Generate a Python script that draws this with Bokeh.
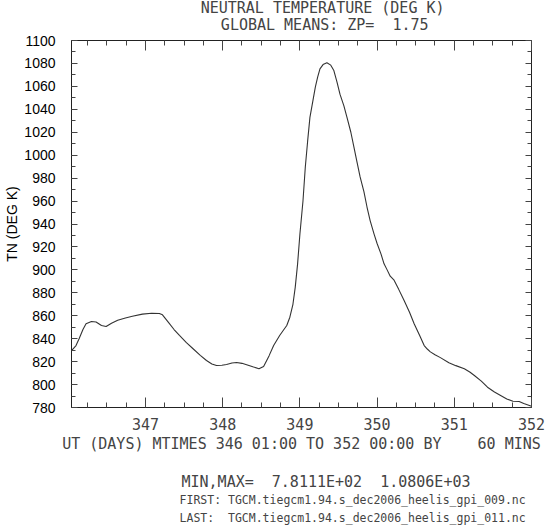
import re
from bokeh.plotting import figure
from bokeh.layouts import column
from bokeh.models import Range1d, FixedTicker, SingleIntervalTicker, LinearAxis, Label
from bokeh.embed import file_html
from bokeh.resources import INLINE

# ---- data ----
ut_days = [346.042, 346.10, 346.14, 346.19, 346.23, 346.30, 346.36, 346.43, 346.49, 346.56,
           346.64, 346.74, 346.83, 346.96, 347.08, 347.18, 347.22, 347.30, 347.37, 347.44,
           347.53, 347.62, 347.71, 347.79, 347.86, 347.92, 347.99, 348.05, 348.12, 348.18,
           348.25, 348.31, 348.39, 348.47, 348.53, 348.60, 348.66, 348.74, 348.83, 348.87,
           348.91, 348.94, 348.97, 349.00, 349.04, 349.07, 349.10, 349.13, 349.17, 349.20,
           349.23, 349.26, 349.30, 349.35, 349.40, 349.44, 349.48, 349.52, 349.57, 349.61,
           349.66, 349.70, 349.74, 349.78, 349.83, 349.87, 349.91, 349.96, 350.00, 350.05,
           350.09, 350.13, 350.17, 350.22, 350.28, 350.35, 350.42, 350.48, 350.55, 350.61,
           350.65, 350.69, 350.75, 350.82, 350.93, 351.02, 351.13, 351.20, 351.26, 351.35,
           351.43, 351.52, 351.60, 351.68, 351.76, 351.84, 351.90, 352.00]
tn_deg_k = [829.5, 834.0, 840.0, 848.0, 853.0, 855.0, 854.5, 851.5, 850.6, 853.5,
            856.0, 858.0, 859.5, 861.4, 862.2, 862.0, 860.8, 854.0, 848.0, 842.8,
            836.5, 831.0, 825.5, 821.0, 818.0, 816.6, 816.8, 817.5, 818.8, 819.2,
            818.5, 817.3, 815.5, 813.8, 815.7, 825.0, 834.0, 843.0, 851.5, 858.7,
            870.0, 885.0, 905.0, 931.0, 960.0, 989.5, 1012.0, 1033.0, 1048.0, 1059.3,
            1068.0, 1075.3, 1079.0, 1080.6, 1078.5, 1073.8, 1064.0, 1053.0, 1043.0, 1033.0,
            1020.0, 1007.0, 994.0, 981.0, 968.0, 954.6, 943.0, 931.4, 923.0, 914.0,
            905.3, 900.0, 894.5, 891.0, 883.0, 873.3, 863.0, 853.0, 843.0, 834.0,
            831.0, 828.5, 826.0, 823.5, 819.0, 816.5, 813.7, 811.0, 807.9, 803.0,
            797.7, 793.5, 790.5, 787.5, 785.5, 785.2, 783.5, 781.1]

x_major_ticks = [347, 348, 349, 350, 351, 352]
x_minor_ticks = [346.25, 346.5, 346.75, 347.25, 347.5, 347.75, 348.25, 348.5, 348.75,
                 349.25, 349.5, 349.75, 350.25, 350.5, 350.75, 351.25, 351.5, 351.75]
y_major_ticks = list(range(780, 1101, 20))
y_minor_ticks = list(range(790, 1100, 20))
x_start, x_end = 346.0417, 352.0
y_start, y_end = 780, 1100

title_lines = ["NEUTRAL TEMPERATURE (DEG K)", "GLOBAL MEANS: ZP=  1.75"]
x_label = "UT (DAYS) MTIMES 346 01:00 TO 352 00:00 BY    60 MINS"
y_label = "TN (DEG K)"
minmax_text = "MIN,MAX=  7.8111E+02  1.0806E+03"
first_text = "FIRST: TGCM.tiegcm1.94.s_dec2006_heelis_gpi_009.nc"
last_text = "LAST:  TGCM.tiegcm1.94.s_dec2006_heelis_gpi_011.nc"


def keep_spaces(s):
    # runs of spaces would collapse in SVG; keep them with no-break spaces
    return re.sub(r" (?= )", "\u00a0", s)


# ---- layout (page pixels) ----
W = 545
HEAD_H, FOOT_H = 32, 66
MAIN_H = 526 - HEAD_H - FOOT_H          # 428
FL, FR = 71, 531                         # frame left/right
FT_LOCAL = 40 - HEAD_H                   # frame top inside main figure  (page y 40)
FB_LOCAL = 407 - HEAD_H                  # frame bottom inside main figure (page y 407)
STROKE_FONT = "DejaVu Sans Mono"
STROKE_COLOR = "#444444"
FRAME_COLOR = "#222222"
TICK_COLOR = "#444444"


def text_panel(height):
    f = figure(width=W, height=height, output_backend="svg", toolbar_location=None,
               x_range=Range1d(0, W), y_range=Range1d(height, 0),
               min_border=0, x_axis_location=None, y_axis_location=None)
    f.grid.visible = False
    f.outline_line_color = None
    f.background_fill_color = "white"
    f.border_fill_color = "white"
    return f


def put(f, txt, x, y, size, align="center"):
    f.add_layout(Label(x=x, y=y, text=keep_spaces(txt), text_font=STROKE_FONT,
                       text_font_size=size, text_color=STROKE_COLOR,
                       text_align=align, text_baseline="middle"))


# header with the two title lines
head = text_panel(HEAD_H)
put(head, title_lines[0], 297.5, 7.5, "15px")
put(head, title_lines[1], 300, 24, "15px")

# main plot
p = figure(width=W, height=MAIN_H, output_backend="svg", toolbar_location=None,
           x_range=Range1d(x_start, x_end), y_range=Range1d(y_start, y_end),
           min_border_left=FL, min_border_right=W - FR, min_border_top=FT_LOCAL,
           min_border_bottom=MAIN_H - FB_LOCAL, x_axis_location=None, y_axis_location=None)
p.grid.visible = False
p.outline_line_color = FRAME_COLOR
p.outline_line_width = 1
p.background_fill_color = "white"
p.border_fill_color = "white"


def style_ticks(ax, major_len, minor_len):
    ax.major_tick_in = major_len
    ax.major_tick_out = 0
    ax.minor_tick_in = minor_len
    ax.minor_tick_out = 0
    ax.axis_line_color = FRAME_COLOR
    ax.major_tick_line_color = TICK_COLOR
    ax.minor_tick_line_color = TICK_COLOR


xb = LinearAxis(ticker=FixedTicker(ticks=x_major_ticks, minor_ticks=x_minor_ticks))
style_ticks(xb, 10, 5)
xb.major_label_text_font = STROKE_FONT
xb.major_label_text_font_size = "15px"
xb.major_label_text_color = STROKE_COLOR
xb.major_label_standoff = 10
xb.axis_label = keep_spaces(x_label)
xb.axis_label_text_font = STROKE_FONT
xb.axis_label_text_font_size = "15px"
xb.axis_label_text_font_style = "normal"
xb.axis_label_text_color = STROKE_COLOR
xb.axis_label_standoff = 2
p.add_layout(xb, "below")

yl = LinearAxis(ticker=SingleIntervalTicker(interval=20, num_minor_ticks=2))
style_ticks(yl, 6, 4)
yl.major_label_text_font = "Liberation Sans"
yl.major_label_text_font_size = "14px"
yl.major_label_text_color = "black"
yl.major_label_standoff = 16
yl.axis_label = y_label
yl.axis_label_text_font = "Liberation Sans"
yl.axis_label_text_font_size = "14px"
yl.axis_label_text_font_style = "normal"
yl.axis_label_text_color = "black"
yl.axis_label_standoff = 1
p.add_layout(yl, "left")

# mirrored tick marks on top and right (no labels): minor-length and major-length sets
for ticks, length in ((x_minor_ticks, 5), (x_major_ticks, 10)):
    ax = LinearAxis(ticker=FixedTicker(ticks=[], minor_ticks=ticks))
    style_ticks(ax, 0, length)
    ax.axis_line_color = None
    ax.major_label_standoff = 0
    p.add_layout(ax, "above")
for ticks, length in ((y_minor_ticks, 4), (y_major_ticks, 6)):
    ax = LinearAxis(ticker=FixedTicker(ticks=[], minor_ticks=ticks))
    style_ticks(ax, 0, length)
    ax.axis_line_color = None
    ax.major_label_standoff = 0
    p.add_layout(ax, "right")

p.line(ut_days, tn_deg_k, line_color="#333333", line_width=1.1)

# footer with the min/max and file lines
foot = text_panel(FOOT_H)
put(foot, minmax_text, 301.5, 21.5, "15px")
put(foot, first_text, 128, 39.5, "11.5px", align="left")
put(foot, last_text, 128, 57.5, "11.5px", align="left")

layout = column(head, p, foot, spacing=0)
open("out.html", "w").write(file_html(layout, INLINE))
